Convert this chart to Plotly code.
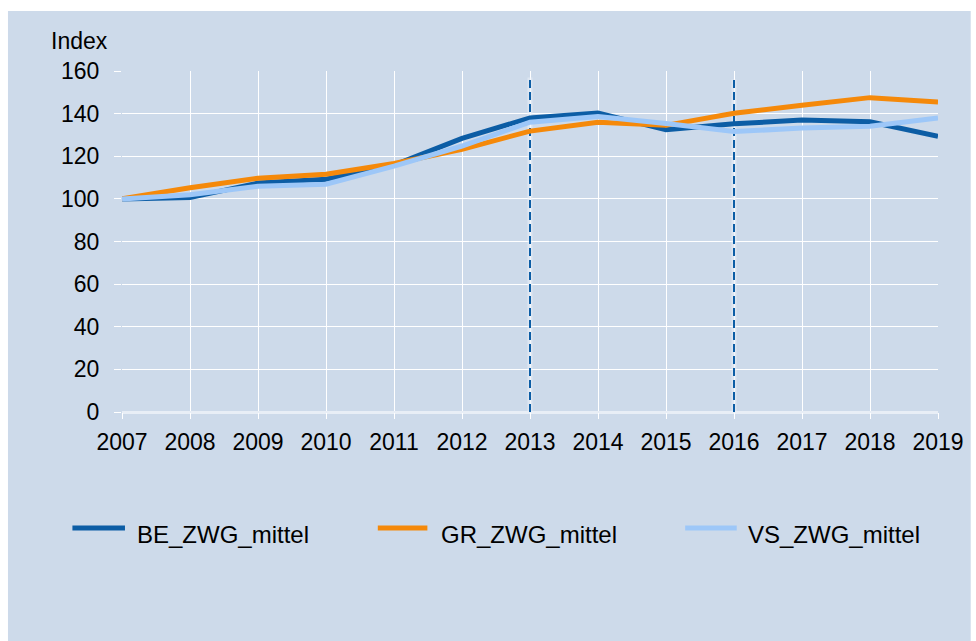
import plotly.graph_objects as go

# Index series (2007 = 100)
years = [2007, 2008, 2009, 2010, 2011, 2012, 2013, 2014, 2015, 2016, 2017, 2018, 2019]
be_zwg_mittel = [100, 100.6, 107.4, 109.2, 115.8, 128.4, 138.0, 140.3, 132.4, 135.2, 137.0, 136.2, 129.4]
gr_zwg_mittel = [100, 105.2, 109.7, 111.6, 116.6, 123.2, 131.8, 136.0, 134.5, 140.2, 143.9, 147.5, 145.5]
vs_zwg_mittel = [100, 101.9, 105.9, 106.9, 115.4, 124.8, 136.0, 138.7, 135.4, 131.6, 133.2, 134.1, 137.9]

series_names = ["BE_ZWG_mittel", "GR_ZWG_mittel", "VS_ZWG_mittel"]
series_values = [be_zwg_mittel, gr_zwg_mittel, vs_zwg_mittel]
series_colors = ["#0C5DA5", "#F5890A", "#9DC7F8"]

# vertical break markers
break_years = [2013, 2016]
break_tops = [157, 156]

y_ticks = [0, 20, 40, 60, 80, 100, 120, 140, 160]

BG = "#CDDAEA"
FONT = "Liberation Sans, Arial, Helvetica, sans-serif"
FS = 23
FS_LEGEND = 24

# plot area in pixels
W, H = 976, 641
L, R, T, B = 122, 31, 71, 229
PW, PH = W - L - R, H - T - B


def px_x(p):
    return (p - L) / PW


def px_y(p):
    return (H - B - p) / PH


fig = go.Figure()

for yr, top in zip(break_years, break_tops):
    fig.add_trace(go.Scatter(
        x=[yr, yr], y=[0, top], mode="lines",
        line=dict(color="rgba(235,240,248,0.55)", width=5),
        hoverinfo="skip", showlegend=False))
    fig.add_trace(go.Scatter(
        x=[yr, yr], y=[0, top], mode="lines",
        line=dict(color="#0C5DA5", width=2, dash="8px,4px"),
        hoverinfo="skip", showlegend=False))

for name, vals, col in zip(series_names, series_values, series_colors):
    fig.add_trace(go.Scatter(
        x=years, y=vals, mode="lines", name=name,
        line=dict(color=col, width=5), showlegend=False))

shapes = [
    dict(type="rect", xref="paper", yref="paper", layer="below",
         x0=px_x(7), x1=px_x(W + 2), y0=px_y(11), y1=px_y(H + 2),
         fillcolor=BG, line=dict(width=0)),
]

annotations = [
    dict(text="Index", xref="paper", yref="paper", x=px_x(48), y=px_y(41),
         xanchor="left", yanchor="middle", showarrow=False,
         font=dict(family=FONT, size=FS, color="black")),
]

# legend drawn as line samples with labels
legend_lines = [(70, 127), (378, 432), (688, 744)]
legend_text_x = [135, 442, 751]
for (x0, x1), tx, name, col in zip(legend_lines, legend_text_x, series_names, series_colors):
    shapes.append(dict(type="line", xref="paper", yref="paper",
                       x0=px_x(x0 + 2), x1=px_x(x1 - 2), y0=px_y(528), y1=px_y(528),
                       line=dict(color=col, width=5)))
    annotations.append(dict(text=name, xref="paper", yref="paper",
                            x=px_x(tx), y=px_y(534), xanchor="left", yanchor="middle",
                            showarrow=False,
                            font=dict(family=FONT, size=FS_LEGEND, color="black")))

fig.update_layout(
    width=W, height=H,
    margin=dict(l=L, r=R, t=T, b=B, pad=0),
    paper_bgcolor="white",
    plot_bgcolor=BG,
    font=dict(family=FONT, size=FS, color="black"),
    shapes=shapes,
    annotations=annotations,
    showlegend=False,
    xaxis=dict(range=[years[0], years[-1]], tickmode="array", tickvals=years,
               ticktext=[str(y) for y in years],
               showgrid=True, gridcolor="white", gridwidth=1,
               ticks="outside", ticklen=6, tickcolor="white", tickwidth=1,
               zeroline=False, showline=False, ticklabelstandoff=3,
               tickfont=dict(family=FONT, size=FS, color="black")),
    yaxis=dict(range=[0, 160], tickmode="array", tickvals=y_ticks,
               showgrid=True, gridcolor="white", gridwidth=1,
               ticks="outside", ticklen=7, tickcolor="white", tickwidth=1,
               zeroline=True, zerolinecolor="#E8EEF6", zerolinewidth=3,
               showline=False, ticklabelstandoff=10,
               tickfont=dict(family=FONT, size=FS, color="black")),
)

fig.write_html("out.html")
